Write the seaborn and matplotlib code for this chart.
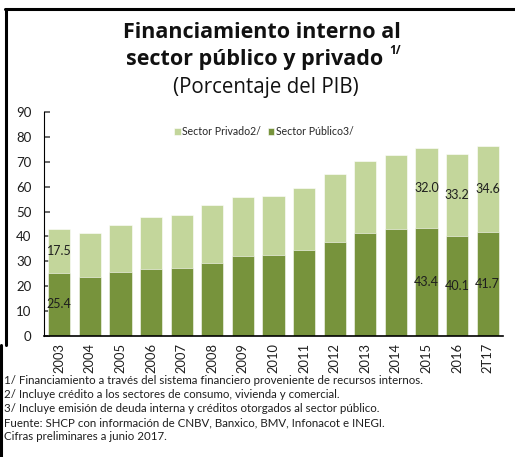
import pandas as pd
import matplotlib.pyplot as plt
import seaborn as sns
from matplotlib.lines import Line2D

# data (% of GDP)
years = ["2003", "2004", "2005", "2006", "2007", "2008", "2009", "2010",
         "2011", "2012", "2013", "2014", "2015", "2016", "2T17"]
publico = [25.4, 23.7, 25.7, 27.0, 27.4, 29.4, 32.2, 32.5,
           34.5, 37.8, 41.2, 42.8, 43.4, 40.1, 41.7]
privado = [17.5, 17.7, 18.8, 20.7, 21.1, 23.3, 23.7, 23.7,
           25.0, 27.1, 29.3, 30.1, 32.0, 33.2, 34.6]
labeled_years = ["2003", "2015", "2016", "2T17"]

notes = [
    "1/ Financiamiento a través del sistema financiero proveniente de recursos internos.",
    "2/ Incluye crédito a los sectores de consumo, vivienda y comercial.",
    "3/ Incluye emisión de deuda interna y créditos otorgados al sector público.",
    "Fuente: SHCP con información de CNBV, Banxico, BMV, Infonacot e INEGI.",
    "Cifras preliminares a junio 2017.",
]

DARK = "#77933C"
LIGHT = "#C3D69B"
TXT = "#1e1e1e"


def main():
    sns.set_theme(style="white")
    plt.rcParams["font.family"] = ["Lato", "DejaVu Sans"]

    df = pd.DataFrame({"year": years, "publico": publico, "privado": privado})
    df["total"] = df["publico"] + df["privado"]

    W, H = 515, 457
    fig = plt.figure(figsize=(W / 100, H / 100), dpi=100)
    ax = fig.add_axes([44 / W, 1 - 336 / H, 459 / W, 224 / H])

    # stacked look: total bar behind, public bar in front
    sns.barplot(data=df, x="year", y="total", order=years, color=LIGHT,
                saturation=1, width=0.73, edgecolor="white", linewidth=0.4,
                ax=ax, label="Sector Privado2/")
    sns.barplot(data=df, x="year", y="publico", order=years, color=DARK,
                saturation=1, width=0.73, edgecolor="white", linewidth=0.4,
                ax=ax, label="Sector Público3/")

    # value labels for selected years
    for i, y in enumerate(years):
        if y in labeled_years:
            row = df.iloc[i]
            ax.text(i, row["publico"] / 2, f"{row['publico']:.1f}",
                    ha="center", va="center", fontsize=9, color=TXT)
            ax.text(i, row["publico"] + row["privado"] / 2, f"{row['privado']:.1f}",
                    ha="center", va="center", fontsize=9, color=TXT)

    ax.set_ylim(0, 90)
    ax.set_yticks(range(0, 91, 10))
    ax.set_xlim(-0.5, len(years) - 0.5)
    ax.set_xlabel("")
    ax.set_ylabel("")
    ax.tick_params(axis="x", rotation=90, labelsize=9.3, length=0, pad=5,
                   labelcolor=TXT)
    ax.tick_params(axis="y", labelsize=9.5, direction="in", length=4,
                   color="#555555", left=True, pad=9, labelcolor=TXT)
    for s in ["top", "right"]:
        ax.spines[s].set_visible(False)
    ax.spines["left"].set_color("black")
    ax.spines["bottom"].set_color("black")
    ax.spines["left"].set_linewidth(0.8)
    ax.spines["bottom"].set_linewidth(1.2)

    ax.legend(loc="center", bbox_to_anchor=(0.479, 0.912), ncol=2,
              frameon=False, fontsize=7.6, handlelength=0.6, handleheight=0.6,
              handletextpad=0.1, columnspacing=0.7, borderpad=0)

    # title block
    tfont = ["Open Sans", "DejaVu Sans"]
    fig.text(262 / W, 1 - 33 / H, "Financiamiento interno al", ha="center",
             va="center", fontsize=15.5, fontweight="bold", color="#111111",
             family=tfont)
    t2 = fig.text(255 / W, 1 - 60 / H, "sector público y privado", ha="center",
                  va="center", fontsize=15.5, fontweight="bold", color="#111111",
                  family=tfont)
    ax.annotate("1/", xy=(1.0, 0.62), xycoords=t2, xytext=(4, 0),
                textcoords="offset points", ha="left", va="bottom",
                fontsize=8.5, fontweight="bold", color="#111111",
                family=tfont, annotation_clip=False)
    fig.text(266 / W, 1 - 88 / H, "(Porcentaje del PIB)", ha="center",
             va="center", fontsize=14.8, color="#111111", family=tfont)

    # footnotes
    for k, line in enumerate(notes):
        fig.text(4 / W, 1 - (381 + 14 * k) / H, line, ha="left", va="center",
                 fontsize=8.3, color=TXT)

    # frame lines of the original graphic
    fig.add_artist(Line2D([6 / W, 6 / W], [1 - 9 / H, 1 - 345 / H],
                          color="black", lw=2.2, transform=fig.transFigure))
    fig.add_artist(Line2D([1 / W, 1 / W], [1 - 345 / H, 0],
                          color="black", lw=2.2, transform=fig.transFigure))
    fig.add_artist(Line2D([5 / W, 1], [1 - 9 / H, 1 - 9 / H],
                          color="black", lw=2.2, transform=fig.transFigure))

    fig.savefig("out.png", dpi=100)


if __name__ == "__main__":
    main()
